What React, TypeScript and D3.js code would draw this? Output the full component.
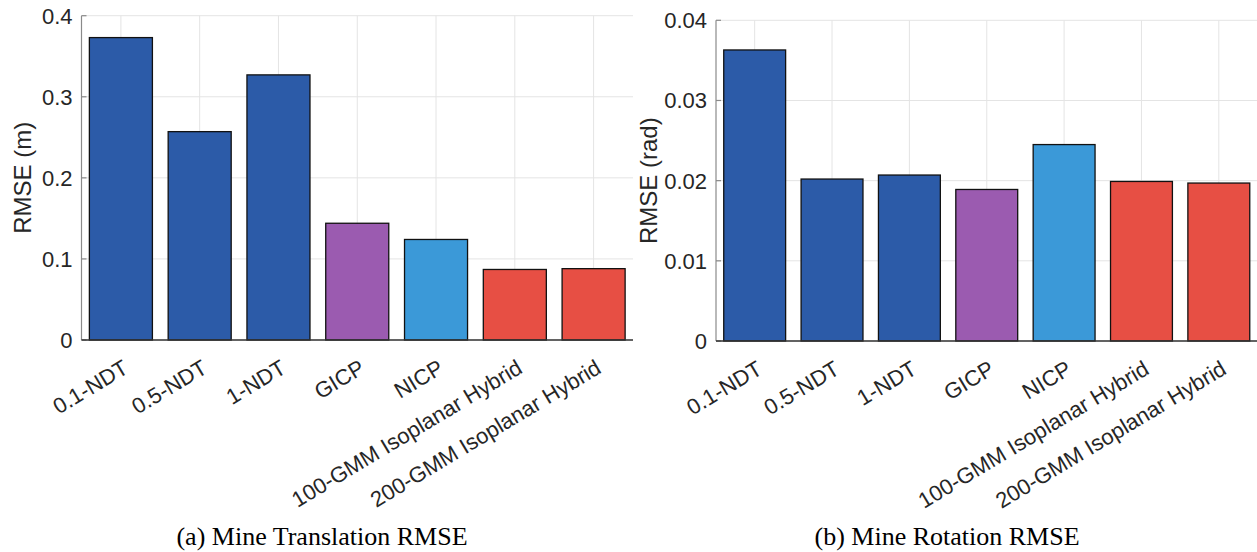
import React from "react";
import * as d3 from "d3";

const categories = [
  "0.1-NDT",
  "0.5-NDT",
  "1-NDT",
  "GICP",
  "NICP",
  "100-GMM Isoplanar Hybrid",
  "200-GMM Isoplanar Hybrid",
];
const translationRmse = [0.373, 0.257, 0.327, 0.144, 0.124, 0.087, 0.088];
const rotationRmse = [0.0363, 0.0202, 0.0207, 0.0189, 0.0245, 0.0199, 0.0197];
const barColors = ["#2c5ba8", "#2c5ba8", "#2c5ba8", "#9b5bb0", "#3b99d8", "#e74f44", "#e74f44"];
const translationTicks = [0, 0.1, 0.2, 0.3, 0.4];
const translationTickLabels = ["0", "0.1", "0.2", "0.3", "0.4"];
const rotationTicks = [0, 0.01, 0.02, 0.03, 0.04];
const rotationTickLabels = ["0", "0.01", "0.02", "0.03", "0.04"];

const SANS = "'Liberation Sans', Arial, Helvetica, sans-serif";
const SERIF = "'Liberation Serif', 'Times New Roman', serif";

type PanelProps = {
  values: number[];
  ticks: number[];
  tickLabels: string[];
  yMax: number;
  x0: number;
  x1: number;
  yTop: number;
  yBottom: number;
  yLabel: string;
  yLabelX: number;
  title: string;
  titleX: number;
};

function Panel(p: PanelProps) {
  const x = d3
    .scaleBand<string>()
    .domain(categories)
    .range([p.x0, p.x1])
    .paddingInner(0.2)
    .paddingOuter(0.1);
  const y = d3.scaleLinear().domain([0, p.yMax]).range([p.yBottom, p.yTop]);
  const centers = categories.map((c) => (x(c) as number) + x.bandwidth() / 2);
  const yMid = (p.yTop + p.yBottom) / 2;
  return (
    <g>
      {p.ticks.map((t, i) => (
        <line key={"hg" + i} x1={p.x0} x2={p.x1} y1={y(t)} y2={y(t)} stroke="#e4e4e4" strokeWidth={1} />
      ))}
      {centers.map((cx, i) => (
        <line key={"vg" + i} x1={cx} x2={cx} y1={p.yTop} y2={p.yBottom} stroke="#e4e4e4" strokeWidth={1} />
      ))}
      <line x1={p.x0} x2={p.x0} y1={p.yTop} y2={p.yBottom} stroke="#8a8a8a" strokeWidth={1.2} />
      {p.ticks.map((t, i) => (
        <line key={"tk" + i} x1={p.x0} x2={p.x0 + 5} y1={y(t)} y2={y(t)} stroke="#8a8a8a" strokeWidth={1.2} />
      ))}
      {p.ticks.map((t, i) => (
        <text
          key={"tl" + i}
          x={p.x0 - 9}
          y={y(t)}
          dy="0.36em"
          textAnchor="end"
          fontFamily={SANS}
          fontSize={22}
          fill="#262626"
        >
          {p.tickLabels[i]}
        </text>
      ))}
      {categories.map((c, i) => (
        <rect
          key={"b" + i}
          x={x(c) as number}
          y={y(p.values[i])}
          width={x.bandwidth()}
          height={y(0) - y(p.values[i])}
          fill={barColors[i]}
          stroke="#111111"
          strokeWidth={1.3}
        />
      ))}
      <line x1={p.x0} x2={p.x1} y1={y(0)} y2={y(0)} stroke="#333333" strokeWidth={1.4} />
      {categories.map((c, i) => (
        <text
          key={"xl" + i}
          transform={`translate(${centers[i] + 9},${p.yBottom + 32}) rotate(-31)`}
          textAnchor="end"
          fontFamily={SANS}
          fontSize={22}
          fill="#262626"
        >
          {c}
        </text>
      ))}
      <text
        transform={`translate(${p.yLabelX},${yMid}) rotate(-90)`}
        textAnchor="middle"
        fontFamily={SANS}
        fontSize={24}
        fill="#262626"
      >
        {p.yLabel}
      </text>
      <text x={p.titleX} y={545} textAnchor="middle" fontFamily={SERIF} fontSize={26} fill="#000">
        {p.title}
      </text>
    </g>
  );
}

export default function App() {
  return (
    <svg
      width={1257}
      height={552}
      viewBox="0 0 1257 552"
      style={{ position: "absolute", left: 0, top: 0, background: "#fff" }}
    >
      <rect x={0} y={0} width={1257} height={552} fill="#fff" />
      <Panel
        values={translationRmse}
        ticks={translationTicks}
        tickLabels={translationTickLabels}
        yMax={0.4}
        x0={81.5}
        x1={633}
        yTop={15.7}
        yBottom={340}
        yLabel="RMSE (m)"
        yLabelX={31}
        title="(a) Mine Translation RMSE"
        titleX={322}
      />
      <Panel
        values={rotationRmse}
        ticks={rotationTicks}
        tickLabels={rotationTickLabels}
        yMax={0.04}
        x0={716}
        x1={1257.5}
        yTop={20.3}
        yBottom={341}
        yLabel="RMSE (rad)"
        yLabelX={657}
        title="(b) Mine Rotation RMSE"
        titleX={947}
      />
    </svg>
  );
}
